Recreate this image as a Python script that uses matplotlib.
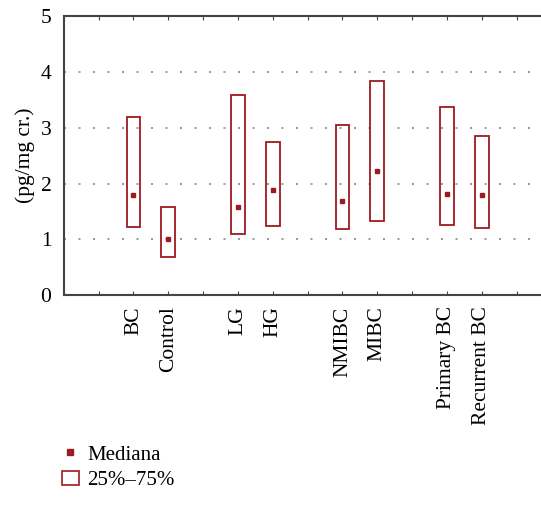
import matplotlib.pyplot as plt
from matplotlib.lines import Line2D
from matplotlib.patches import Rectangle

plt.rcParams['font.family'] = ['Liberation Serif', 'DejaVu Serif']

groups = ['BC', 'Control', 'LG', 'HG', 'NMIBC', 'MIBC', 'Primary BC', 'Recurrent BC']
positions = [2, 3, 5, 6, 8, 9, 11, 12]
q1 = [1.22, 0.68, 1.10, 1.24, 1.19, 1.33, 1.25, 1.21]
q3 = [3.20, 1.58, 3.58, 2.75, 3.05, 3.84, 3.37, 2.85]
median = [1.80, 1.01, 1.58, 1.89, 1.68, 2.23, 1.82, 1.80]

red = '#9e1a22'

fig = plt.figure(figsize=(5.41, 5.17), dpi=100)
ax = fig.add_axes([0.118, 0.429, 0.882, 0.540])

heights = [b - a for a, b in zip(q1, q3)]
ax.bar(positions, heights, bottom=q1, width=0.4, fill=False,
       edgecolor=red, linewidth=1.3, zorder=3)
ax.plot(positions, median, 's', color=red, markersize=3.5, zorder=4)

ax.set_xlim(0, 13.7)
ax.set_ylim(0, 5)
ax.set_yticks(range(6))
ax.set_xticks(range(14))
labels = [''] * 14
for p, g in zip(positions, groups):
    labels[p] = g
ax.set_xticklabels(labels, rotation=90, va='top', fontsize=15.5)
ax.tick_params(axis='x', direction='in', length=3, top=True, color='#444444', pad=8)
ax.tick_params(axis='y', length=0, labelsize=15.5, pad=9)
ax.yaxis.grid(True, linestyle=(0, (1.2, 7.5)), color='#888888', linewidth=1.2)
ax.set_ylabel('(pg/mg cr.)', fontsize=15.5, labelpad=4)

for s in ['left', 'bottom', 'top']:
    ax.spines[s].set_color('#444444')
    ax.spines[s].set_linewidth(1.5)
ax.spines['right'].set_visible(False)

handles = [
    Line2D([], [], marker='s', color=red, linestyle='none', markersize=5),
    Rectangle((0, 0), 1, 1, fill=False, edgecolor=red, linewidth=1.2),
]
fig.legend(handles, ['Mediana', '25%\u201375%'], loc='lower left',
           bbox_to_anchor=(0.08, 0.015), frameon=False, fontsize=15,
           handlelength=0.8, handletextpad=0.4, labelspacing=0.3)

fig.savefig('out.png', dpi=100)
